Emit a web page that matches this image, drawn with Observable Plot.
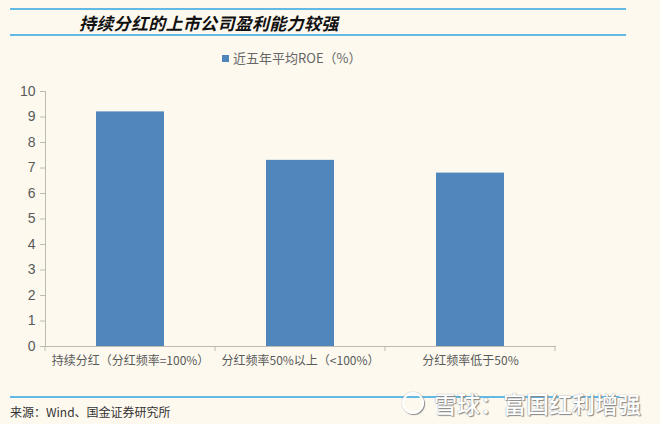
<!DOCTYPE html>
<html>
<head>
<meta charset="utf-8">
<script src="https://cdn.jsdelivr.net/npm/d3@7"></script>
<script src="https://cdn.jsdelivr.net/npm/@observablehq/plot@0.6"></script>
<style>
  body { margin: 0; background: #fdf9ef; }
  #wrap { position: relative; width: 660px; height: 424px; overflow: hidden; background: #fdf9ef;
          font-family: "Noto Sans CJK SC", "Noto Sans", sans-serif; }
  .hline { position: absolute; left: 10px; width: 616px; height: 2px; background: #62b9e4; }
  #title { position: absolute; left: 79px; top: 12px; font-size: 17px; font-weight: bold; font-style: italic;
           color: #111; line-height: 22px; letter-spacing: 0.3px; }
  #legend { position: absolute; left: 222px; top: 49px; font-size: 13px; color: #666; line-height: 18px;
            display: flex; align-items: center; }
  #legend .sw { width: 7px; height: 7px; background: #4f86bc; margin-right: 4px; }
  #chart { position: absolute; left: 0; top: 70px; }
  #source { position: absolute; left: 10px; top: 403px; font-size: 12px; color: #333; line-height: 18px; }
  #wm { position: absolute; left: 402px; top: 388px; font-size: 23px; color: #fff; line-height: 30px;
        text-shadow: 0 0 1px #777, 1px 1px 1px #888; display: flex; align-items: center; font-weight: 500; }
  #wm .logo { width: 22px; height: 22px; border: 2.5px solid #fff; border-radius: 50%; margin-right: 10px;
              box-shadow: 0 0 1px #777, 1px 1px 1px #888; box-sizing: border-box; }
</style>
</head>
<body>
<div id="wrap">
  <div class="hline" style="top:8px"></div>
  <div id="title"></div>
  <div class="hline" style="top:34px"></div>
  <div id="legend"><span class="sw"></span><span id="legtext"></span></div>
  <div id="chart"></div>
  <div class="hline" style="top:396px"></div>
  <div id="source"></div>
  <div id="wm"><span class="logo"></span><span id="wmtext"></span></div>
</div>
<script>
const titleText = "持续分红的上市公司盈利能力较强";
const seriesName = "近五年平均ROE（%）";
const sourceText = "来源：Wind、国金证券研究所";
const watermarkText = "雪球：富国红利增强";
const categories = ["持续分红（分红频率=100%）", "分红频率50%以上（<100%）", "分红频率低于50%"];
const roe = [9.2, 7.3, 6.8];
const yTicks = [0, 1, 2, 3, 4, 5, 6, 7, 8, 9, 10];

document.getElementById("title").textContent = titleText;
document.getElementById("legtext").textContent = seriesName;
document.getElementById("source").textContent = sourceText;
document.getElementById("wmtext").textContent = watermarkText;

const data = categories.map((c, i) => ({category: c, value: roe[i]}));
const axisGray = "#bdbab2";
const textGray = "#595959";

const chart = Plot.plot({
  width: 660,
  height: 310,
  marginTop: 21,
  marginBottom: 34,
  marginLeft: 45,
  marginRight: 105,
  style: {background: "transparent", fontFamily: "'Noto Sans CJK SC', sans-serif"},
  x: {domain: categories, paddingInner: 0.6, paddingOuter: 0.3},
  y: {domain: [0, 10]},
  marks: [
    Plot.barY(data, {x: "category", y: "value", fill: "#4f86bc"}),
    Plot.frame({anchor: "left", stroke: axisGray}),
    Plot.frame({anchor: "bottom", stroke: axisGray}),
    Plot.axisY(yTicks, {tickSize: 5, tickPadding: 5, stroke: axisGray, fill: textGray, fontSize: 14,
                        fontFamily: "'Liberation Sans', sans-serif", label: null}),
    Plot.axisX({tickSize: 0, tickPadding: 10, fill: textGray, fontSize: 12, label: null})
  ]
});
document.getElementById("chart").appendChild(chart);

// category separator ticks on the x axis, derived from the band scale
const xs = chart.scale("x");
const ys = chart.scale("y");
const y0 = ys.apply(0);
const r0 = xs.range[0];
const bounds = d3.range(categories.length + 1).map(i => r0 + i * xs.step);
d3.select(chart).append("g")
  .selectAll("line").data(bounds).join("line")
  .attr("x1", d => d).attr("x2", d => d)
  .attr("y1", y0).attr("y2", y0 + 5)
  .attr("stroke", axisGray);
</script>
</body>
</html>
